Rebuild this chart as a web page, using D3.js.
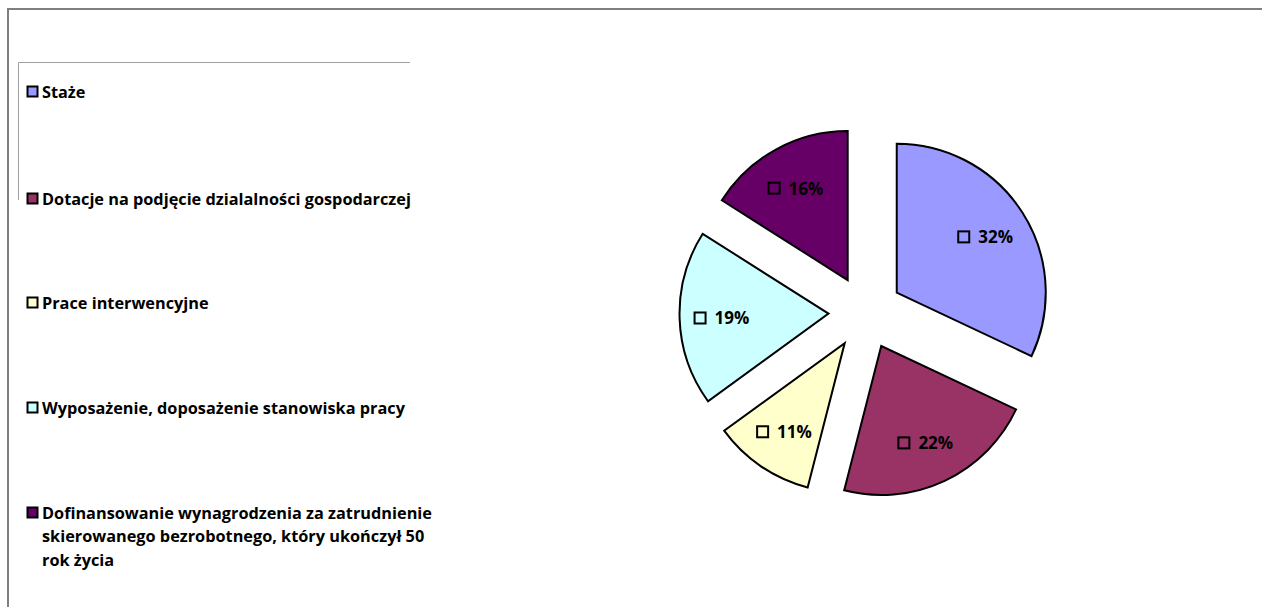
<!DOCTYPE html>
<html>
<head>
<meta charset="utf-8">
<script src="https://cdn.jsdelivr.net/npm/d3@7"></script>
<style>
  body { margin: 0; background: #fff; }
  text { font-family: "Open Sans", Lato, sans-serif; font-weight: bold; }
</style>
</head>
<body>
<script>
// data
var categories = [
  "Staże",
  "Dotacje na podjęcie dzialalności gospodarczej",
  "Prace interwencyjne",
  "Wyposażenie, doposażenie stanowiska pracy",
  "Dofinansowanie wynagrodzenia za zatrudnienie skierowanego bezrobotnego, który ukończył 50 rok życia"
];
var values = [32, 22, 11, 19, 16];
var colors = ["#9999FF", "#993366", "#FFFFCC", "#CCFFFF", "#660066"];
// legend label lines (wrapped as in the picture)
var legendLines = [
  ["Staże"],
  ["Dotacje na podjęcie dzialalności gospodarczej"],
  ["Prace interwencyjne"],
  ["Wyposażenie, doposażenie stanowiska pracy"],
  ["Dofinansowanie wynagrodzenia za zatrudnienie", "skierowanego bezrobotnego, który ukończył 50", "rok życia"]
];

var width = 1262, height = 607;
var svg = d3.select("body").append("svg")
    .attr("width", width)
    .attr("height", height);

// outer chart border (only top and left visible)
svg.append("path")
    .attr("d", "M8,607 L8,9 L1262,9")
    .attr("fill", "none")
    .attr("stroke", "#7f7f7f")
    .attr("stroke-width", 2);

// legend frame, partly visible
svg.append("path")
    .attr("d", "M18.5,200 L18.5,62.5 L410,62.5")
    .attr("fill", "none")
    .attr("stroke", "#a0a0a0")
    .attr("stroke-width", 1);

// pie
var cx = 865.5, cy = 312.5, radius = 149, explode = 37;
var pie = d3.pie().sort(null).value(function(d) { return d; });
var arc = d3.arc().innerRadius(0).outerRadius(radius);
var arcs = pie(values);

var g = svg.append("g").attr("transform", "translate(" + cx + "," + cy + ")");

var slices = g.selectAll(".slice")
    .data(arcs)
    .enter()
    .append("g")
    .attr("class", "slice")
    .attr("transform", function(d) {
        var a = (d.startAngle + d.endAngle) / 2;
        return "translate(" + (explode * Math.sin(a)) + "," + (-explode * Math.cos(a)) + ")";
    });

slices.append("path")
    .attr("d", arc)
    .attr("fill", function(d, i) { return colors[i]; })
    .attr("stroke", "#000")
    .attr("stroke-width", 2)
    .attr("stroke-linejoin", "miter");

// data labels: small empty square + percentage
var labelR = 106;
var lab = slices.append("g")
    .attr("transform", function(d) {
        var a = (d.startAngle + d.endAngle) / 2;
        return "translate(" + (labelR * Math.sin(a)) + "," + (-labelR * Math.cos(a) + 1) + ")";
    });
lab.append("rect")
    .attr("x", -28).attr("y", -5.5)
    .attr("width", 11).attr("height", 11)
    .attr("fill", "none")
    .attr("stroke", "#000")
    .attr("stroke-width", 2);
lab.append("text")
    .attr("x", -8)
    .attr("y", 6.5)
    .attr("font-size", "17px")
    .attr("fill", "#000")
    .text(function(d) { return d.data + "%"; });

// legend
var legendY = [92, 199, 303, 408, 513];
var legend = svg.selectAll(".lineLegend")
    .data(categories)
    .enter()
    .append("g")
    .attr("class", "lineLegend")
    .attr("transform", function(d, i) { return "translate(27," + legendY[i] + ")"; });
legend.append("rect")
    .attr("x", 0.5).attr("y", -5.5)
    .attr("width", 10).attr("height", 10)
    .attr("fill", function(d, i) { return colors[i]; })
    .attr("stroke", "#000")
    .attr("stroke-width", 2);
legend.append("text")
    .attr("x", 15)
    .attr("y", 5.5)
    .attr("font-size", "16.3px")
    .attr("fill", "#000")
    .each(function(d, i) {
        var t = d3.select(this);
        legendLines[i].forEach(function(line, j) {
            t.append("tspan").attr("x", 15).attr("dy", j === 0 ? 0 : 23.8).text(line);
        });
    });
</script>
</body>
</html>
